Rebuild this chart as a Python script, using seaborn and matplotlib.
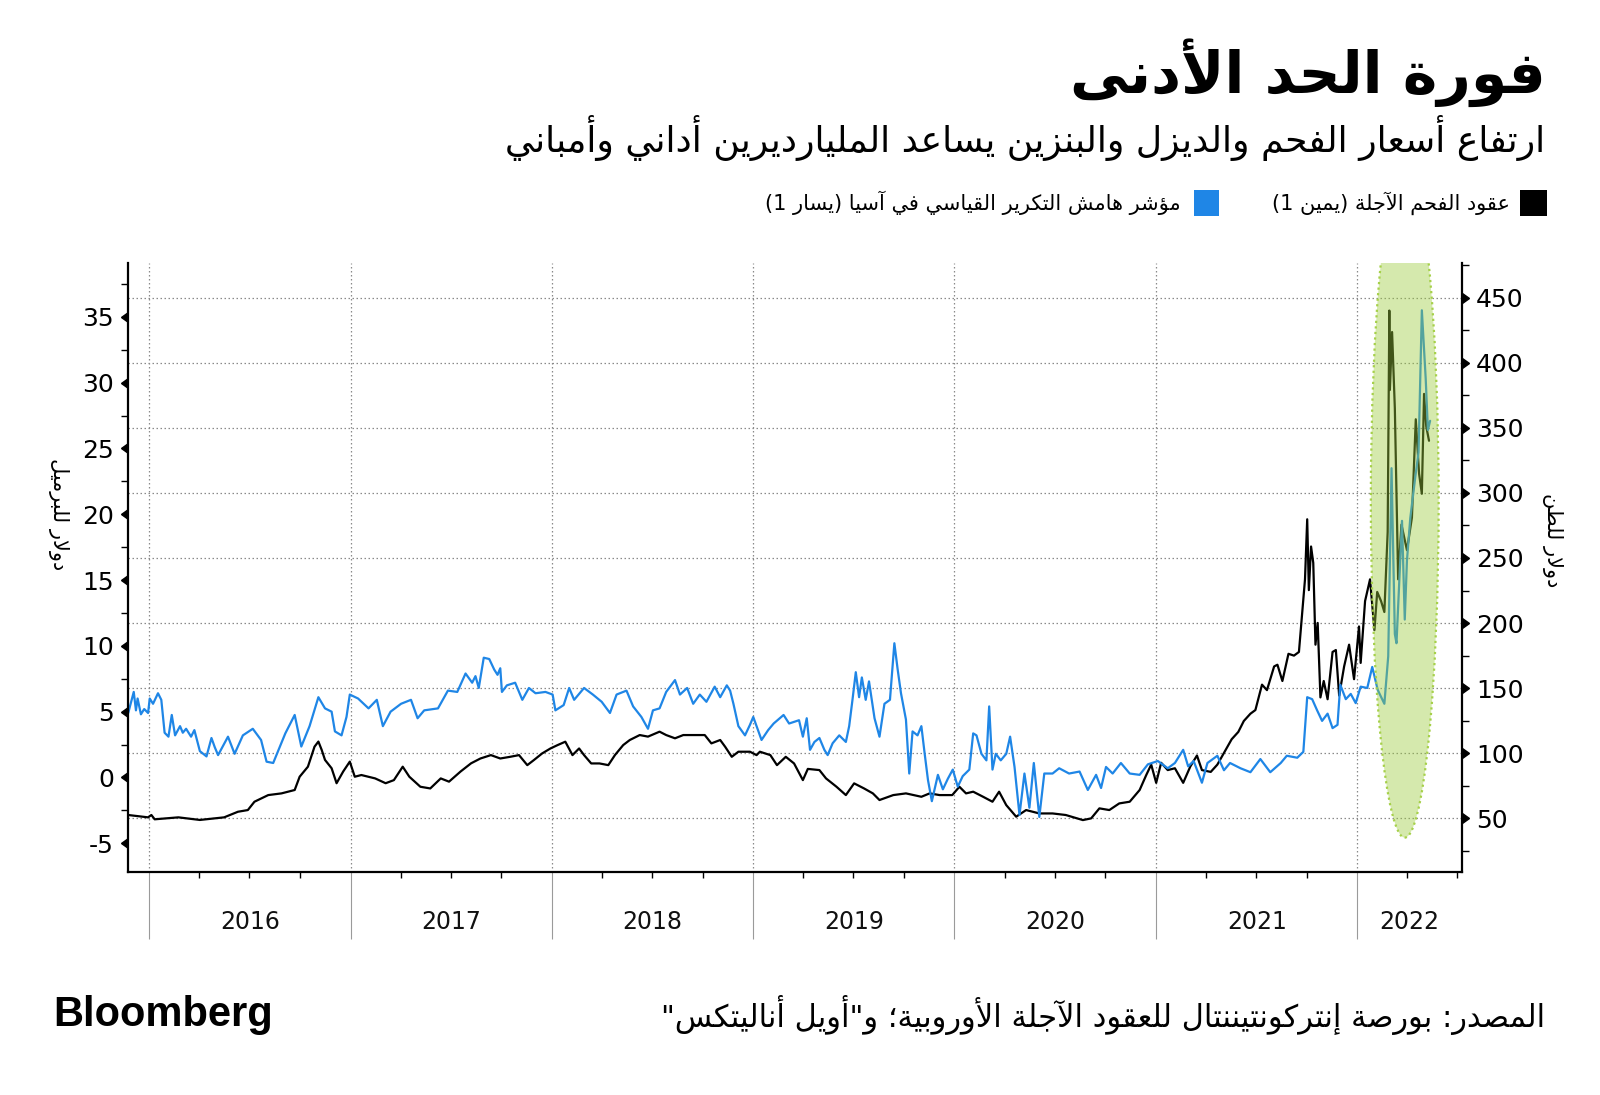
import re
import pandas as pd
import matplotlib
matplotlib.use('Agg')
import matplotlib.pyplot as plt
import matplotlib.dates as mdates
import matplotlib.markers as mmarkers
from matplotlib.patches import Ellipse, Rectangle
from matplotlib.ticker import MultipleLocator, NullFormatter
import seaborn as sns

# ---- data ----
blue_dates = [
    '2015-11-24', '2015-12-04', '2015-12-08', '2015-12-11', '2015-12-17', '2015-12-23', '2015-12-30',
    '2016-01-02', '2016-01-08', '2016-01-17', '2016-01-23', '2016-01-29', '2016-02-05', '2016-02-11',
    '2016-02-17', '2016-02-26', '2016-03-02', '2016-03-08', '2016-03-17', '2016-03-23', '2016-04-02',
    '2016-04-14', '2016-04-23', '2016-04-29', '2016-05-05', '2016-05-23', '2016-06-04', '2016-06-19',
    '2016-07-07', '2016-07-22', '2016-08-01', '2016-08-13', '2016-09-04', '2016-09-21', '2016-10-03',
    '2016-10-18', '2016-11-03', '2016-11-15', '2016-11-27', '2016-12-03', '2016-12-15', '2016-12-24',
    '2016-12-30', '2017-01-14', '2017-02-02', '2017-02-17', '2017-02-28', '2017-03-14', '2017-04-02',
    '2017-04-20', '2017-05-02', '2017-05-14', '2017-06-08', '2017-06-26', '2017-07-13', '2017-07-28',
    '2017-08-09', '2017-08-15', '2017-08-21', '2017-08-30', '2017-09-09', '2017-09-18', '2017-09-24',
    '2017-09-29', '2017-10-02', '2017-10-11', '2017-10-26', '2017-11-08', '2017-11-20', '2017-12-02',
    '2017-12-20', '2018-01-02', '2018-01-07', '2018-01-22', '2018-02-01', '2018-02-10', '2018-02-28',
    '2018-03-16', '2018-04-01', '2018-04-16', '2018-04-28', '2018-05-16', '2018-05-28', '2018-06-12',
    '2018-06-24', '2018-07-03', '2018-07-15', '2018-07-27', '2018-08-12', '2018-08-21', '2018-09-03',
    '2018-09-14', '2018-09-26', '2018-10-08', '2018-10-23', '2018-11-02', '2018-11-14', '2018-11-20',
    '2018-11-26', '2018-12-05', '2018-12-17', '2018-12-26', '2019-01-01', '2019-01-07', '2019-01-16',
    '2019-01-28', '2019-02-07', '2019-02-25', '2019-03-07', '2019-03-25', '2019-04-01', '2019-04-08',
    '2019-04-14', '2019-04-22', '2019-05-01', '2019-05-10', '2019-05-16', '2019-05-25', '2019-06-06',
    '2019-06-18', '2019-06-24', '2019-06-30', '2019-07-06', '2019-07-12', '2019-07-17', '2019-07-24',
    '2019-07-30', '2019-08-09', '2019-08-18', '2019-08-27', '2019-09-06', '2019-09-14', '2019-09-20',
    '2019-09-26', '2019-10-05', '2019-10-11', '2019-10-17', '2019-10-26', '2019-11-02', '2019-11-08',
    '2019-11-14', '2019-11-21', '2019-12-02', '2019-12-11', '2019-12-20', '2019-12-29', '2020-01-07',
    '2020-01-16', '2020-01-28', '2020-02-04', '2020-02-10', '2020-02-19', '2020-02-28', '2020-03-04',
    '2020-03-10', '2020-03-16', '2020-03-25', '2020-04-04', '2020-04-11', '2020-04-19', '2020-04-28',
    '2020-05-07', '2020-05-16', '2020-05-24', '2020-06-03', '2020-06-12', '2020-06-27', '2020-07-09',
    '2020-07-27', '2020-08-15', '2020-08-30', '2020-09-14', '2020-09-23', '2020-10-02', '2020-10-14',
    '2020-10-29', '2020-11-14', '2020-12-02', '2020-12-17', '2021-01-04', '2021-01-22', '2021-02-04',
    '2021-02-19', '2021-02-28', '2021-03-10', '2021-03-25', '2021-04-04', '2021-04-22', '2021-05-04',
    '2021-05-15', '2021-06-03', '2021-06-21', '2021-07-09', '2021-07-27', '2021-08-15', '2021-08-26',
    '2021-09-14', '2021-09-25', '2021-10-02', '2021-10-11', '2021-10-20', '2021-10-29', '2021-11-08',
    '2021-11-17', '2021-11-26', '2021-12-01', '2021-12-11', '2021-12-20', '2021-12-29', '2022-01-07',
    '2022-01-19', '2022-01-28', '2022-02-07', '2022-02-19', '2022-02-26', '2022-03-04', '2022-03-10',
    '2022-03-13', '2022-03-23', '2022-03-28', '2022-04-01', '2022-04-07', '2022-04-16', '2022-04-22',
    '2022-04-28', '2022-05-05', '2022-05-09', '2022-05-13',
]
blue_values = [
    4.9, 6.5, 5.1, 6.0, 4.8, 5.2, 4.9,
    6.0, 5.6, 6.4, 5.9, 3.4, 3.1, 4.75,
    3.2, 3.9, 3.4, 3.7, 3.1, 3.6, 2.0,
    1.6, 3.0, 2.3, 1.7, 3.1, 1.8, 3.2,
    3.7, 2.85, 1.2, 1.1, 3.35, 4.75, 2.35,
    3.9, 6.1, 5.25, 5.0, 3.5, 3.2, 4.6,
    6.3, 6.0, 5.25, 5.9, 3.9, 5.0, 5.6,
    5.9, 4.5, 5.1, 5.25, 6.6, 6.5, 7.9,
    7.2, 7.7, 6.8, 9.1, 9.0, 8.2, 7.8,
    8.3, 6.5, 7.0, 7.2, 5.9, 6.8, 6.4,
    6.5, 6.3, 5.1, 5.5, 6.8, 5.9, 6.8,
    6.3, 5.75, 4.9, 6.3, 6.6, 5.4, 4.6,
    3.7, 5.1, 5.25, 6.5, 7.4, 6.3, 6.8,
    5.6, 6.3, 5.75, 6.9, 6.1, 7.0, 6.6,
    5.6, 3.9, 3.2, 4.0, 4.6, 3.9, 2.85,
    3.6, 4.1, 4.75, 4.1, 4.35, 3.1, 4.5,
    2.1, 2.7, 3.0, 2.1, 1.7, 2.6, 3.2,
    2.7, 3.9, 5.9, 8.0, 6.1, 7.6, 5.9,
    7.3, 4.5, 3.1, 5.6, 5.9, 10.2, 8.2,
    6.4, 4.4, 0.3, 3.5, 3.2, 3.9, 1.8,
    -0.2, -1.8, 0.2, -0.9, -0.1, 0.6, -0.7,
    0.1, 0.6, 3.35, 3.2, 1.8, 1.3, 5.4,
    0.6, 1.8, 1.3, 1.8, 3.1, 0.8, -2.85,
    0.3, -2.3, 1.1, -3.0, 0.3, 0.3, 0.7,
    0.3, 0.45, -0.95, 0.2, -0.8, 0.8, 0.3,
    1.1, 0.3, 0.2, 1.0, 1.25, 0.7, 1.1,
    2.1, 0.85, 1.25, -0.4, 1.1, 1.65, 0.55,
    1.1, 0.7, 0.4, 1.4, 0.4, 1.1, 1.65,
    1.5, 1.95, 6.1, 5.95, 5.1, 4.3, 4.85,
    3.75, 4.0, 7.05, 5.95, 6.35, 5.65, 6.9,
    6.8, 8.4, 6.65, 5.6, 9.2, 23.5, 10.9,
    10.2, 19.5, 12.0, 16.5, 19.7, 22.8, 24.7,
    35.5, 30.3, 26.4, 27.1,
]

coal_dates = [
    '2015-11-24', '2015-12-30', '2016-01-05', '2016-01-11', '2016-02-23', '2016-04-02', '2016-05-16',
    '2016-06-10', '2016-06-28', '2016-07-10', '2016-08-04', '2016-08-28', '2016-09-21', '2016-09-30',
    '2016-10-15', '2016-10-27', '2016-11-03', '2016-11-09', '2016-11-15', '2016-11-27', '2016-12-06',
    '2016-12-18', '2016-12-30', '2017-01-08', '2017-01-20', '2017-02-14', '2017-03-05', '2017-03-20',
    '2017-04-05', '2017-04-17', '2017-05-07', '2017-05-25', '2017-06-13', '2017-06-28', '2017-07-19',
    '2017-08-07', '2017-08-24', '2017-09-12', '2017-09-29', '2017-10-17', '2017-11-02', '2017-11-17',
    '2017-11-29', '2017-12-14', '2017-12-29', '2018-01-11', '2018-01-25', '2018-02-07', '2018-02-19',
    '2018-02-28', '2018-03-13', '2018-03-28', '2018-04-13', '2018-04-25', '2018-05-10', '2018-05-22',
    '2018-06-09', '2018-06-24', '2018-07-15', '2018-07-27', '2018-08-12', '2018-08-27', '2018-09-14',
    '2018-10-05', '2018-10-17', '2018-11-02', '2018-11-11', '2018-11-23', '2018-12-05', '2018-12-26',
    '2019-01-07', '2019-01-13', '2019-02-01', '2019-02-13', '2019-03-01', '2019-03-16', '2019-04-01',
    '2019-04-10', '2019-05-01', '2019-05-13', '2019-06-01', '2019-06-18', '2019-07-03', '2019-07-21',
    '2019-08-06', '2019-08-18', '2019-09-12', '2019-10-05', '2019-11-02', '2019-11-17', '2019-12-05',
    '2019-12-28', '2020-01-10', '2020-01-22', '2020-02-04', '2020-02-22', '2020-03-10', '2020-03-22',
    '2020-04-04', '2020-04-22', '2020-05-10', '2020-06-03', '2020-06-27', '2020-07-21', '2020-08-21',
    '2020-09-05', '2020-09-20', '2020-10-08', '2020-10-26', '2020-11-14', '2020-12-02', '2020-12-14',
    '2020-12-23', '2021-01-01', '2021-01-10', '2021-01-22', '2021-02-04', '2021-02-19', '2021-03-04',
    '2021-03-16', '2021-03-25', '2021-04-10', '2021-04-22', '2021-05-07', '2021-05-18', '2021-05-30',
    '2021-06-09', '2021-06-21', '2021-06-30', '2021-07-12', '2021-07-21', '2021-08-03', '2021-08-09',
    '2021-08-18', '2021-08-29', '2021-09-08', '2021-09-17', '2021-09-23', '2021-09-28', '2021-10-02',
    '2021-10-05', '2021-10-09', '2021-10-13', '2021-10-17', '2021-10-21', '2021-10-26', '2021-11-01',
    '2021-11-08', '2021-11-17', '2021-11-23', '2021-11-29', '2021-12-08', '2021-12-17', '2021-12-26',
    '2022-01-04', '2022-01-07', '2022-01-15', '2022-01-24', '2022-02-01', '2022-02-06', '2022-02-13',
    '2022-02-19', '2022-02-25', '2022-02-28', '2022-03-01', '2022-03-05', '2022-03-10', '2022-03-16',
    '2022-03-22', '2022-04-01', '2022-04-10', '2022-04-17', '2022-04-23', '2022-04-28', '2022-05-02',
    '2022-05-06', '2022-05-11',
]
coal_values = [
    52.6, 50.8, 52.6, 49.3, 50.8, 48.8, 50.8,
    55.1, 56.4, 62.8, 67.9, 69.2, 71.8, 82.0,
    89.7, 105.1, 109.0, 102.6, 94.9, 88.5, 77.0,
    86.0, 93.6, 82.0, 83.3, 80.7, 77.0, 79.4,
    89.7, 82.0, 74.3, 73.0, 80.7, 78.2, 86.0,
    92.3, 96.0, 98.6, 96.0, 97.3, 98.6, 90.9,
    94.8, 99.9, 103.7, 106.3, 108.9, 98.6, 103.7,
    98.6, 92.2, 92.2, 90.9, 98.6, 106.3, 110.2,
    114.0, 112.8, 116.6, 114.0, 111.5, 114.0, 114.0,
    114.0, 107.6, 110.2, 105.0, 97.3, 101.2, 101.2,
    98.6, 101.2, 98.6, 90.9, 97.3, 92.2, 79.4,
    88.0, 87.1, 80.7, 74.3, 67.9, 76.9, 73.0,
    69.2, 64.1, 67.9, 69.2, 66.6, 69.2, 67.9,
    67.9, 74.3, 69.2, 70.5, 66.6, 62.8, 70.5,
    60.2, 51.3, 56.4, 53.8, 53.8, 52.6, 48.7,
    50.0, 57.7, 56.4, 61.5, 62.8, 71.8, 83.3,
    91.3, 77.3, 92.7, 87.1, 88.5, 77.3, 89.9,
    98.3, 87.1, 85.7, 91.3, 102.5, 110.8, 116.4,
    124.8, 130.4, 133.2, 152.7, 148.5, 166.7, 168.0,
    155.5, 176.4, 175.0, 177.8, 208.5, 233.6, 279.7,
    225.3, 258.8, 246.2, 183.4, 200.1, 142.9, 155.5,
    141.5, 177.8, 179.3, 144.3, 166.7, 183.4, 156.9,
    197.4, 169.4, 216.9, 233.6, 194.6, 223.9, 216.9,
    208.5, 270.0, 440.0, 379.0, 423.5, 365.0, 233.6,
    275.6, 256.0, 281.0, 356.5, 314.7, 299.3, 376.0,
    351.0, 340.0,
]

years = ['2016', '2017', '2018', '2019', '2020', '2021', '2022']
left_ticks = [-5, 0, 5, 10, 15, 20, 25, 30, 35]
right_ticks = [50, 100, 150, 200, 250, 300, 350, 400, 450]

title = 'فورة الحد الأدنى'
subtitle = 'ارتفاع أسعار الفحم والديزل والبنزين يساعد المليارديرين أداني وأمباني'
coal_label = 'عقود الفحم الآجلة (يمين 1)'
margin_label = 'مؤشر هامش التكرير القياسي في آسيا (يسار 1)'
left_unit = 'دولار للبرميل'
right_unit = 'دولار للطن'
source = 'المصدر: بورصة إنتركونتيننتال للعقود الآجلة الأوروبية؛ و"أويل أناليتكس"'

BLUE = '#1f86e6'
BLACK = '#000000'
GREEN = '#9ccc3c'

# ---- minimal Arabic shaping (matplotlib has no complex text layout) ----
DUAL = dict(zip('ئبتثجحخسشصضطظعغفقكلمنهي',
                [0xFE89, 0xFE8F, 0xFE95, 0xFE99, 0xFE9D, 0xFEA1, 0xFEA5, 0xFEB1, 0xFEB5,
                 0xFEB9, 0xFEBD, 0xFEC1, 0xFEC5, 0xFEC9, 0xFECD, 0xFED1, 0xFED5, 0xFED9,
                 0xFEDD, 0xFEE1, 0xFEE5, 0xFEE9, 0xFEF1]))
RIGHT = dict(zip('آأؤإاةدذرزوى',
                 [0xFE81, 0xFE83, 0xFE85, 0xFE87, 0xFE8D, 0xFE93, 0xFEA9, 0xFEAB, 0xFEAD,
                  0xFEAF, 0xFEED, 0xFEEF]))
LAMALEF = dict(zip('آأإا', [0xFEF5, 0xFEF7, 0xFEF9, 0xFEFB]))


def ar(text):
    toks = []
    i = 0
    while i < len(text):
        c = text[i]
        if c == 'ل' and i + 1 < len(text) and text[i + 1] in LAMALEF:
            toks.append(('R', LAMALEF[text[i + 1]]))
            i += 2
            continue
        if c in DUAL:
            toks.append(('D', DUAL[c]))
        elif c in RIGHT:
            toks.append(('R', RIGHT[c]))
        else:
            toks.append(('N', c))
        i += 1
    out = []
    for k, (kind, val) in enumerate(toks):
        if kind == 'N':
            out.append(val)
            continue
        prev = k > 0 and toks[k - 1][0] == 'D'
        nxt = kind == 'D' and k + 1 < len(toks) and toks[k + 1][0] in 'DR'
        out.append(chr(val + {(False, False): 0, (True, False): 1,
                              (False, True): 2, (True, True): 3}[(prev, nxt)]))
    s = ''.join(out)[::-1].translate(str.maketrans('()', ')('))
    return re.sub(r'[0-9A-Za-z]+', lambda m: m.group(0)[::-1], s)


# ---- frames ----
df_blue = pd.DataFrame({'date': pd.to_datetime(blue_dates), 'margin': blue_values})
df_coal = pd.DataFrame({'date': pd.to_datetime(coal_dates), 'coal': coal_values})

sns.set_style('white')
plt.rcParams['font.family'] = ['DejaVu Sans']
plt.rcParams.update({'text.color': 'black', 'axes.labelcolor': 'black',
                     'xtick.color': 'black', 'ytick.color': 'black'})

fig = plt.figure(figsize=(16, 10.95), dpi=100)
ax2 = fig.add_axes([0.0798, 0.2032, 0.834, 0.5566])   # right axis: coal
ax1 = ax2.twinx()                                       # left axis: margin
ax1.yaxis.tick_left()
ax1.yaxis.set_label_position('left')
ax2.yaxis.tick_right()
ax2.yaxis.set_label_position('right')
ax1.set_zorder(ax2.get_zorder() + 1)
ax1.patch.set_visible(False)

sns.lineplot(data=df_coal, x='date', y='coal', ax=ax2, color=BLACK, linewidth=1.6)
sns.lineplot(data=df_blue, x='date', y='margin', ax=ax1, color=BLUE, linewidth=1.6)

x0, x1 = pd.Timestamp('2015-11-23'), pd.Timestamp('2022-07-10')
ax2.set_xlim(x0, x1)
ax1.set_xlim(x0, x1)
ax1.set_ylim(-7.22, 39.09)
ax2.set_ylim(8.45, 476.5)

# highlight ellipse over the 2022 spike
ell_center = (mdates.date2num(pd.Timestamp('2022-03-28')), 20.98)
ax1.add_patch(Ellipse(ell_center, 123, 51.1, facecolor=GREEN, alpha=0.42,
                      edgecolor='none', zorder=5))
ax1.add_patch(Ellipse(ell_center, 123, 51.1, facecolor='none', edgecolor='#a6d04a',
                      linestyle=(0, (1, 1.5)), linewidth=1.6, zorder=6))

# y axes
ax1.set_yticks(left_ticks)
ax1.yaxis.set_minor_locator(MultipleLocator(2.5))
ax1.set_yticklabels([str(v) for v in left_ticks])
ax2.set_yticks(right_ticks)
ax2.yaxis.set_minor_locator(MultipleLocator(25))
ax2.set_yticklabels([str(v) for v in right_ticks])

ax1.tick_params(axis='y', which='major', length=7, width=1, pad=3, labelsize=18, colors='black')
ax1.tick_params(axis='y', which='minor', length=5, width=1, colors='black')
ax2.tick_params(axis='y', which='major', length=7, width=1, pad=3, labelsize=18, colors='black')
ax2.tick_params(axis='y', which='minor', length=5, width=1, colors='black')
for t in ax1.yaxis.get_major_ticks():
    t.tick1line.set_marker(mmarkers.CARETLEFTBASE)
    t.tick1line.set_markerfacecolor('black')
for t in ax2.yaxis.get_major_ticks():
    t.tick2line.set_marker(mmarkers.CARETRIGHTBASE)
    t.tick2line.set_markerfacecolor('black')

# x axis: year dividers + quarter ticks
for a in (ax1, ax2):
    a.xaxis.set_major_locator(mdates.YearLocator())
    a.xaxis.set_minor_locator(mdates.MonthLocator(bymonth=[4, 7, 10]))
    a.xaxis.set_major_formatter(NullFormatter())
    a.set_xlabel('')
    a.set_ylabel('')
ax1.tick_params(axis='x', which='both', bottom=False, labelbottom=False)
ax2.tick_params(axis='x', which='major', bottom=True, length=48, width=0.8, color='#9a9a9a')
ax2.tick_params(axis='x', which='minor', bottom=True, length=4, width=1, color='black')

# grid: horizontal from right axis, vertical at years
ax2.grid(True, which='major', axis='both', linestyle=(0, (1.2, 2)), color='#8a8a8a', linewidth=0.9)
ax1.grid(False)

for a in (ax1, ax2):
    for s in a.spines.values():
        s.set_visible(False)
ax1.spines['left'].set_visible(True)
ax2.spines['right'].set_visible(True)
ax2.spines['bottom'].set_visible(True)
for s in (ax1.spines['left'], ax2.spines['right'], ax2.spines['bottom']):
    s.set_color('black')
    s.set_linewidth(1.6)

# year labels centred in each year span
for y in years:
    start = max(pd.Timestamp(f'{y}-01-01'), x0)
    end = min(pd.Timestamp(f'{int(y) + 1}-01-01'), x1)
    mid = start + (end - start) / 2
    ax2.text(mid, -0.082, y, transform=ax2.get_xaxis_transform(), ha='center', va='center',
             fontsize=17, color='#111111')

# axis unit labels
ax1.set_ylabel(ar(left_unit), fontsize=15, rotation=270, va='center')
ax1.yaxis.set_label_coords(-0.052, 0.588)
ax2.set_ylabel(ar(right_unit), fontsize=15, rotation=270, va='center')
ax2.yaxis.set_label_coords(1.0675, 0.5455)

# header
fig.text(0.966, 0.934, ar(title), ha='right', va='center', fontsize=42, fontweight='bold')
fig.text(0.966, 0.874, ar(subtitle), ha='right', va='center', fontsize=26)

# legend (right to left)
fig.add_artist(Rectangle((0.950, 0.8027), 0.0169, 0.0237, transform=fig.transFigure,
                         facecolor=BLACK, edgecolor='none'))
fig.text(0.944, 0.8146, ar(coal_label), ha='right', va='center', fontsize=15)
fig.add_artist(Rectangle((0.7463, 0.8027), 0.0156, 0.0237, transform=fig.transFigure,
                         facecolor=BLUE, edgecolor='none'))
fig.text(0.738, 0.8146, ar(margin_label), ha='right', va='center', fontsize=15)

# footer
fig.text(0.966, 0.073, ar(source), ha='right', va='center', fontsize=22)
fig.text(0.033, 0.073, 'Bloomberg', ha='left', va='center', fontsize=30, fontweight='bold',
         family=['Liberation Sans', 'DejaVu Sans'])

fig.savefig('out.png', dpi=100)
